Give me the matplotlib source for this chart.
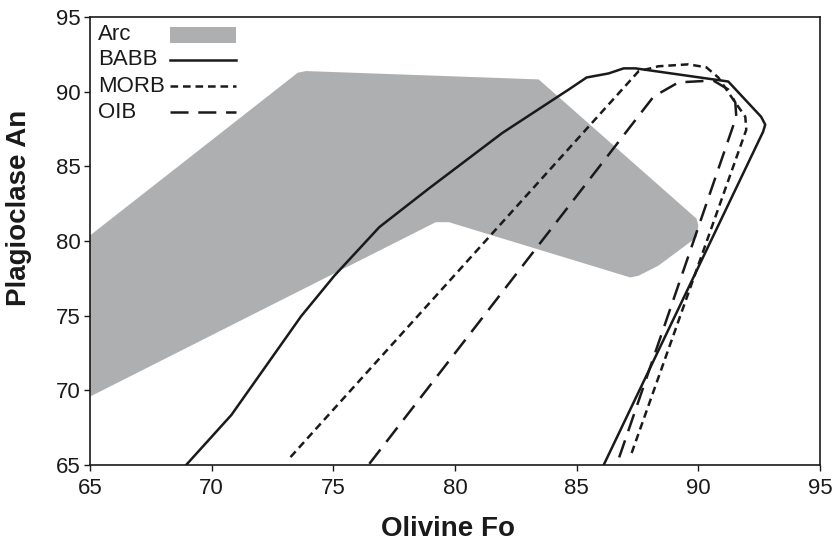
import matplotlib
matplotlib.use("Agg")
import matplotlib.pyplot as plt
from matplotlib.patches import Polygon, Rectangle

plt.rcParams['font.family'] = ['Liberation Sans', 'DejaVu Sans']
plt.rcParams['lines.scale_dashes'] = False

# Arc field (gray area), outline
arc_fo = [65.0, 73.54, 73.88, 83.44, 89.93, 90.0, 89.93, 88.36, 87.54, 87.20, 79.75, 79.21, 65.0]
arc_an = [80.37, 91.27, 91.38, 90.82, 81.49, 81.04, 80.25, 78.35, 77.67, 77.56, 81.26, 81.26, 69.58]

# BABB envelope
babb_fo = [68.95, 70.81, 73.68, 75.04, 76.89, 78.93, 81.94, 84.67, 85.41, 86.31, 86.93, 87.42,
           91.23, 92.58, 92.75, 92.66, 86.11]
babb_an = [65.0, 68.35, 74.97, 77.67, 80.93, 83.52, 87.23, 90.14, 90.95, 91.22, 91.56, 91.56,
           90.68, 88.32, 87.79, 87.31, 65.0]

# MORB envelope
morb_fo = [73.24, 87.54, 88.36, 89.59, 90.33, 90.82, 91.35, 91.93, 91.97, 87.20]
morb_an = [65.53, 91.36, 91.70, 91.83, 91.63, 90.95, 89.67, 88.32, 87.45, 65.53]

# OIB envelope
oib_fo = [76.48, 88.16, 89.18, 90.61, 91.23, 91.52, 91.56, 86.64]
oib_an = [65.08, 89.67, 90.62, 90.75, 90.15, 89.27, 88.32, 65.0]

gris = '#adafb1'
negro = '#1a1a1a'
texto = '#1a1a1a'

fig = plt.figure(figsize=(8.38, 5.43), dpi=100)
ax = fig.add_axes([90 / 838, 1 - 465 / 543, 730 / 838, 448 / 543])

ax.add_patch(Polygon(list(zip(arc_fo, arc_an)), closed=True, facecolor=gris, edgecolor='none', zorder=1))
ax.plot(babb_fo, babb_an, color=negro, lw=1.8, zorder=3)
ax.plot(morb_fo, morb_an, color=negro, lw=1.8, dashes=(5.5, 3.5), zorder=3)
ax.plot(oib_fo, oib_an, color=negro, lw=1.8, dashes=(13, 7), zorder=3)

ax.set_xlim(65, 95)
ax.set_ylim(65, 95)
ax.set_xticks([65, 70, 75, 80, 85, 90, 95])
ax.set_yticks([65, 70, 75, 80, 85, 90, 95])
ax.tick_params(direction='out', length=4, width=1, labelsize=16, colors=texto)
ax.tick_params(axis='x', pad=5)
ax.tick_params(axis='y', pad=3)
for s in ax.spines.values():
    s.set_linewidth(1.2)
    s.set_color(texto)

ax.set_xlabel('Olivine Fo', fontsize=20, fontweight='bold', color=texto)
ax.set_ylabel('Plagioclase An', fontsize=20, fontweight='bold', color=texto)
ax.xaxis.set_label_coords((448 - 90) / 730, -(516 - 465) / 448)
ax.yaxis.set_label_coords(-(90 - 32) / 730, 1 - (208 - 17) / 448)

# leyenda dibujada a mano: texto a la izquierda, muestra a la derecha
nombres = ['Arc', 'BABB', 'MORB', 'OIB']
estilos = [None, None, (5.5, 3.5), (13, 7)]
tr = ax.transAxes
x_txt = (98 - 90) / 730
x0 = (170 - 90) / 730
x1 = (236 - 90) / 730
filas = [35, 59.5, 86, 112]
for nombre, estilo, fila in zip(nombres, estilos, filas):
    yy = 1 - (fila - 17) / 448
    ax.text(x_txt, yy, nombre, transform=tr, fontsize=16, va='center', ha='left', color=texto)
    if nombre == 'Arc':
        h = 15 / 448
        ax.add_patch(Rectangle((x0, yy - h / 2), x1 - x0, h, transform=tr, facecolor=gris, edgecolor='none'))
    elif estilo is None:
        ax.plot([x0, x1], [yy, yy], transform=tr, color=negro, lw=1.8)
    else:
        ax.plot([x0, x1], [yy, yy], transform=tr, color=negro, lw=1.8, dashes=estilo)

plt.savefig('out.png', dpi=100)
plt.close()
